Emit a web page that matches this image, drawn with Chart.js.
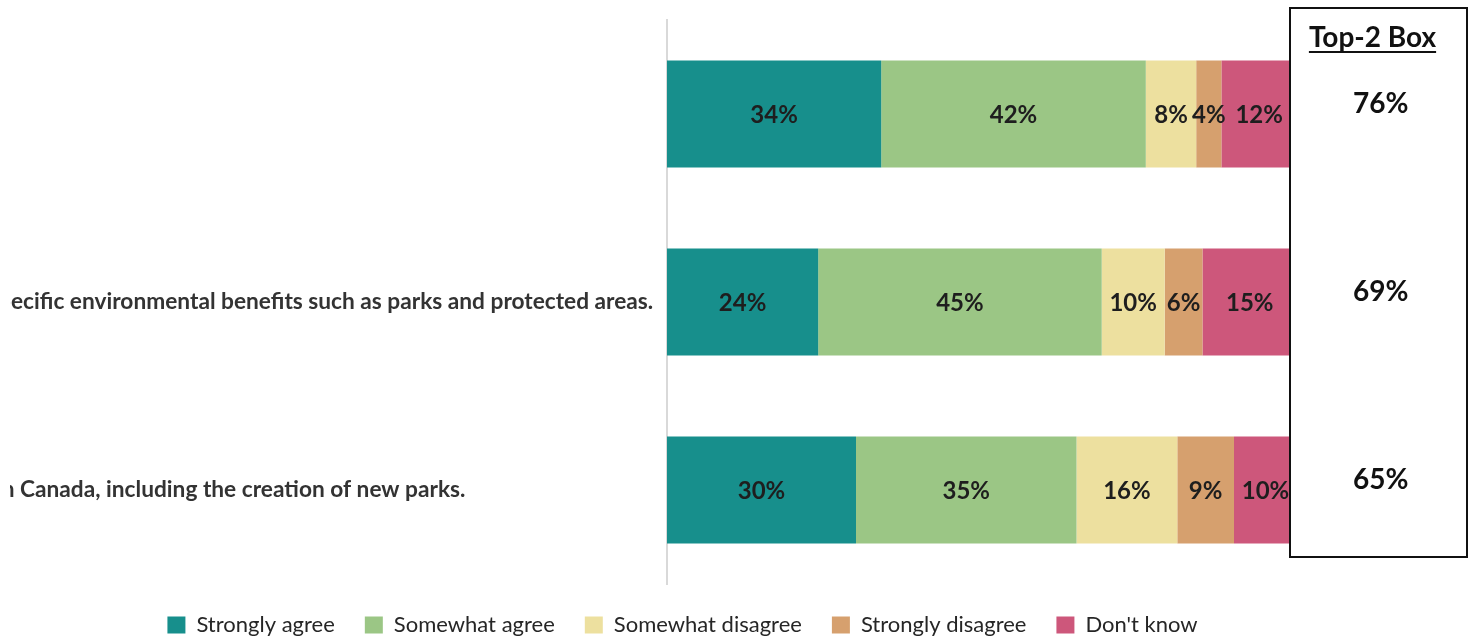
<!DOCTYPE html>
<html>
<head>
<meta charset="utf-8">
<script src="https://cdn.jsdelivr.net/npm/chart.js@4.4.0/dist/chart.umd.min.js"></script>
<style>
html,body{margin:0;padding:0;background:#fff;overflow:hidden}
#wrap{position:absolute;left:10px;top:0;width:1465px;height:637px}
</style>
</head>
<body>
<div id="wrap"><canvas id="chart"></canvas></div>
<script>
// === Data ===
const CATEGORIES = [
  'Overall',
  'Support for specific environmental benefits such as parks and protected areas.',
  'Investments in Canada, including the creation of new parks.'
];
const SERIES = ['Strongly agree', 'Somewhat agree', 'Somewhat disagree', 'Strongly disagree', "Don't know"];
const COLORS = ['#178f8c', '#9bc685', '#ede09f', '#d6a06e', '#cd577b'];
const STRONGLY_AGREE    = [34, 24, 30];
const SOMEWHAT_AGREE    = [42, 45, 35];
const SOMEWHAT_DISAGREE = [8, 10, 16];
const STRONGLY_DISAGREE = [4, 6, 9];
const DONT_KNOW         = [12, 15, 10];
const SERIES_VALUES = [STRONGLY_AGREE, SOMEWHAT_AGREE, SOMEWHAT_DISAGREE, STRONGLY_DISAGREE, DONT_KNOW];
// top-2 box = strongly + somewhat agree
const TOP2 = STRONGLY_AGREE.map((v, i) => v + SOMEWHAT_AGREE[i]);

const FONT = 'Lato, "DejaVu Sans", sans-serif';
const LEFT_BLEED = 143;              // long category labels run off the left edge
const RIGHT_PAD = 120 - LEFT_BLEED;  // keeps the legend centred under the bars

// === Plugins ===
const barValues = {
  id: 'barValues',
  afterDatasetsDraw(chart){
    const ctx = chart.ctx;
    ctx.save();
    ctx.font = `bold 24px ${FONT}`;
    ctx.fillStyle = '#1e1e1e';
    ctx.textAlign = 'center'; ctx.textBaseline = 'middle';
    chart.data.datasets.forEach((ds, di) => {
      chart.getDatasetMeta(di).data.forEach((bar, i) => {
        const v = ds.data[i]; if(!v) return;
        const p = bar.getCenterPoint();
        ctx.fillText(v + '%', p.x, p.y + 1);
      });
    });
    ctx.restore();
  }
};

const top2Box = {
  id: 'top2Box',
  afterDatasetsDraw(chart){
    const ctx = chart.ctx, s = chart.scales.top2, a = chart.chartArea;
    const x0 = s.left - 7, x1 = s.left + 170, y0 = a.top - 12, y1 = a.bottom - 27;
    ctx.save();
    ctx.fillStyle = '#fff';
    ctx.fillRect(x0, y0, x1 - x0, y1 - y0);
    ctx.lineWidth = 2; ctx.strokeStyle = '#111';
    ctx.strokeRect(x0, y0, x1 - x0, y1 - y0);
    // underlined header
    const cx = (x0 + x1) / 2 - 6, title = 'Top-2 Box';
    ctx.font = `bold 28px ${FONT}`;
    ctx.fillStyle = '#111'; ctx.textAlign = 'center'; ctx.textBaseline = 'middle';
    ctx.fillText(title, cx, y0 + 30);
    const w = ctx.measureText(title).width;
    ctx.fillRect(cx - w / 2, y0 + 43, w, 2);
    ctx.restore();
  }
};

// === Chart ===
new Chart(document.getElementById('chart'), {
  type: 'bar',
  data: {
    labels: CATEGORIES,
    datasets: SERIES.map((name, i) => ({
      label: name,
      data: SERIES_VALUES[i],
      backgroundColor: COLORS[i],
      borderWidth: 0,
      barPercentage: 0.57,
      categoryPercentage: 1
    }))
  },
  options: {
    indexAxis: 'y',
    responsive: true,
    maintainAspectRatio: false,
    animation: false,
    devicePixelRatio: 1,
    layout: { padding: { left: -LEFT_BLEED, top: 20, right: RIGHT_PAD, bottom: -9 } },
    plugins: {
      tooltip: { enabled: false },
      legend: {
        position: 'bottom',
        labels: { boxWidth: 18, boxHeight: 17, padding: 30, color: '#262626', font: { family: FONT, size: 22 } }
      }
    },
    scales: {
      x: { stacked: true, min: 0, max: 100, display: false },
      y: {
        stacked: true,
        grid: { display: false },
        border: { display: true, color: '#d9d9d9', width: 2 },
        ticks: { crossAlign: 'far', color: '#333', font: { family: FONT, size: 22.7, weight: 'bold' } },
        afterFit(s){ s.width = 657 + LEFT_BLEED; }
      },
      top2: {
        type: 'category',
        labels: TOP2.map(v => v + '%'),
        position: 'right',
        offset: true,
        grid: { display: false, drawTicks: true, tickLength: 56 },
        border: { display: false },
        ticks: { z: 1, crossAlign: 'center', padding: 0, labelOffset: -10, color: '#111', font: { family: FONT, size: 28, weight: 'bold' } },
        afterFit(s){ s.width = 178 - RIGHT_PAD; }
      }
    }
  },
  plugins: [barValues, top2Box]
});
</script>
</body>
</html>
